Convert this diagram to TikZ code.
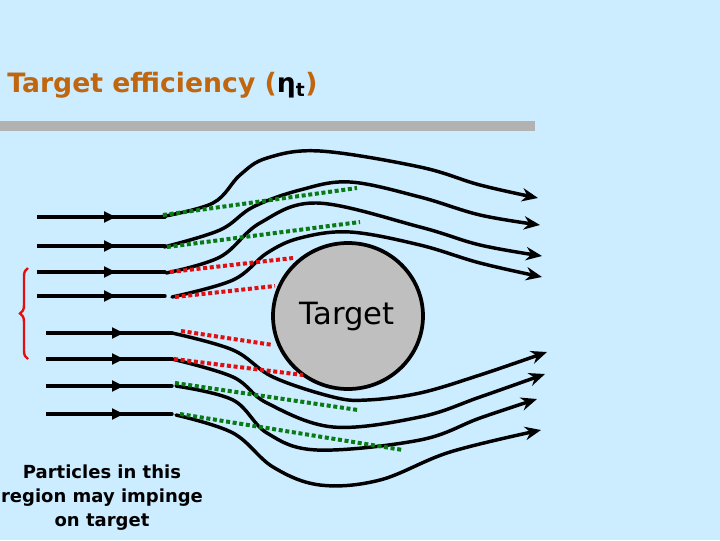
\documentclass[tikz,border=0pt]{standalone}
\usepackage{fontspec}
\setmainfont{DejaVu Sans}
\usetikzlibrary{arrows.meta,decorations.pathreplacing}
\definecolor{bg}{HTML}{CCECFF}
\definecolor{ttl}{HTML}{C0660F}
\definecolor{dgreen}{HTML}{0A7A14}
\definecolor{dred}{HTML}{E01010}
\tikzset{
  stream/.style={line width=2.6pt, line cap=round},
  inarrow/.style={line width=2.6pt, -{Triangle[length=9pt,width=8pt]}},
  outarrow/.style={line width=2.6pt, -{Stealth[length=12pt,width=10pt]}},
  gdot/.style={dgreen, line width=3pt, dash pattern=on 3pt off 2pt},
  rdot/.style={dred, line width=3pt, dash pattern=on 3pt off 2pt},
}
\begin{document}
\begin{tikzpicture}[x=0.75pt,y=-0.75pt]
\fill[bg] (0,0) rectangle (720,540);
\useasboundingbox (0,0) rectangle (720,540);
\node[anchor=base west, inner sep=0, font=\bfseries\fontsize{20}{24}\selectfont, text=ttl] (title) at (7,92) {Target efficiency (\textcolor{black}{η\textsubscript{t}})};
\fill[black!30] (0,121) rectangle (535,131);
% inflow segments
\foreach \y in {217,246,272,296} {
  \draw[inarrow] (37,\y) -- (116,\y);
  \draw[stream] (110,\y) -- (165,\y);
}
\foreach \y in {333,359,386,414} {
  \draw[inarrow] (46,\y) -- (124,\y);
  \draw[stream] (118,\y) -- (172,\y);
}
% streamlines
\draw[stream, outarrow] plot[smooth, tension=0.6] coordinates {(160,217) (213,203) (240,175) (267,158) (320,151) (420,167) (480,185) (538,198)};
\draw[stream, outarrow] plot[smooth, tension=0.6] coordinates {(164,247) (220,230) (253,207) (300,190) (350,182) (420,197) (480,215) (540,225)};
\draw[stream, outarrow] plot[smooth, tension=0.6] coordinates {(166,273) (220,257) (260,223) (317,203) (420,227) (480,245) (542,256)};
\draw[stream, outarrow] plot[smooth, tension=0.6] coordinates {(172,297) (233,280) (267,253) (300,238) (350,232) (420,245) (480,263) (542,277)};
\draw[stream, outarrow] plot[smooth, tension=0.6] coordinates {(172,333) (233,350) (273,377) (333,397) (367,400) (420,393) (480,375) (547,352)};
\draw[stream, outarrow] plot[smooth, tension=0.6] coordinates {(172,359) (233,377) (267,403) (333,427) (420,417) (480,397) (545,374)};
\draw[stream, outarrow] plot[smooth, tension=0.6] coordinates {(176,386) (233,400) (267,433) (317,450) (420,440) (480,418) (537,399)};
\draw[stream, outarrow] plot[smooth, tension=0.6] coordinates {(176,415) (233,433) (273,467) (320,485) (380,480) (450,452) (541,430)};
% target
\draw[line width=2.8pt, fill=black!25] (348,316) ellipse [x radius=75, y radius=73];
\node[font=\fontsize{23}{26}\selectfont] (tgt) at (347,317) {Target};
% dotted limits
\draw[gdot] (163,215) -- (357,188);
\draw[gdot] (167,247) -- (360,222);
\draw[rdot] (170,272) -- (293,258);
\draw[rdot] (175,297) -- (275,286);
\draw[rdot] (181,331) -- (273,345);
\draw[rdot] (174,359) -- (303,375);
\draw[gdot] (175,383) -- (358,410);
\draw[gdot] (180,414) -- (403,450);
% brace
\draw[dred, line width=1.8pt, decorate, decoration={brace, amplitude=6pt}] (28,359) -- (28,268);
\node[align=center, font=\bfseries\fontsize{13.5}{18}\selectfont] (note) at (102,498) {Particles in this\\region may impinge\\on target};
\end{tikzpicture}
\end{document}
